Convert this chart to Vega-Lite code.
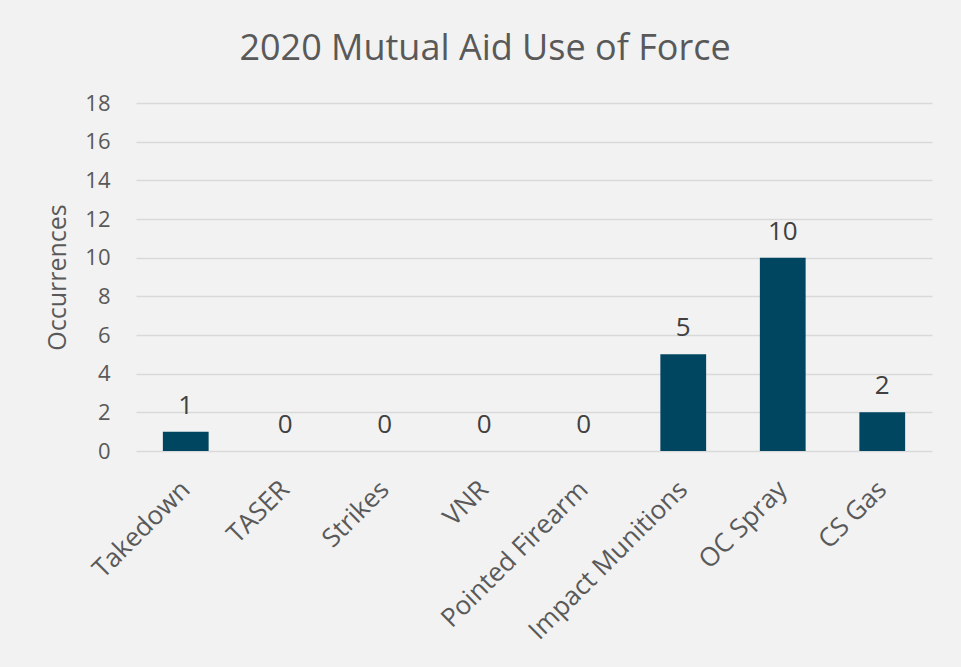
{
  "$schema": "https://vega.github.io/schema/vega-lite/v6.json",
  "autosize": "none",
  "width": 796,
  "height": 348,
  "padding": {"left": 136, "top": 103, "right": 29, "bottom": 216},
  "background": "#f2f2f2",
  "config": {
    "view": {"stroke": null},
    "font": "Open Sans"
  },
  "title": {
    "text": "2020 Mutual Aid Use of Force",
    "font": "Open Sans",
    "fontSize": 36,
    "fontWeight": "normal",
    "color": "#595959",
    "anchor": "middle",
    "dx": -49,
    "offset": 24
  },
  "data": {
    "values": [
      {"category": "Takedown", "count": 1},
      {"category": "TASER", "count": 0},
      {"category": "Strikes", "count": 0},
      {"category": "VNR", "count": 0},
      {"category": "Pointed Firearm", "count": 0},
      {"category": "Impact Munitions", "count": 5},
      {"category": "OC Spray", "count": 10},
      {"category": "CS Gas", "count": 2}
    ]
  },
  "encoding": {
    "x": {
      "field": "category",
      "type": "nominal",
      "sort": null,
      "scale": {"paddingInner": 0.54, "paddingOuter": 0.27},
      "axis": {
        "title": null,
        "labelAngle": -45,
        "labelAlign": "right",
        "labelBaseline": "middle",
        "labelPadding": 34,
        "labelFontSize": 26,
        "labelLimit": 0,
        "labelColor": "#595959",
        "labelFont": "Open Sans",
        "ticks": false,
        "domain": false,
        "labelOverlap": false,
        "labelBound": false,
        "labelFlush": false
      }
    },
    "y": {
      "field": "count",
      "type": "quantitative",
      "scale": {"domain": [0, 18]},
      "axis": {
        "title": "Occurrences",
        "titleFontSize": 25,
        "titleFontWeight": "normal",
        "titleColor": "#595959",
        "titleFont": "Open Sans",
        "titlePadding": 14,
        "values": [0, 2, 4, 6, 8, 10, 12, 14, 16, 18],
        "labelFontSize": 22,
        "labelColor": "#595959",
        "labelFont": "Open Sans",
        "labelPadding": 26,
        "ticks": false,
        "domain": false,
        "gridColor": "#d9d9d9",
        "gridWidth": 1.3
      }
    }
  },
  "layer": [
    {"mark": {"type": "bar", "color": "#004660"}},
    {
      "mark": {"type": "text", "baseline": "alphabetic", "dy": -18, "fontSize": 26, "color": "#404040", "font": "Open Sans"},
      "encoding": {"text": {"field": "count", "type": "quantitative"}}
    }
  ]
}
